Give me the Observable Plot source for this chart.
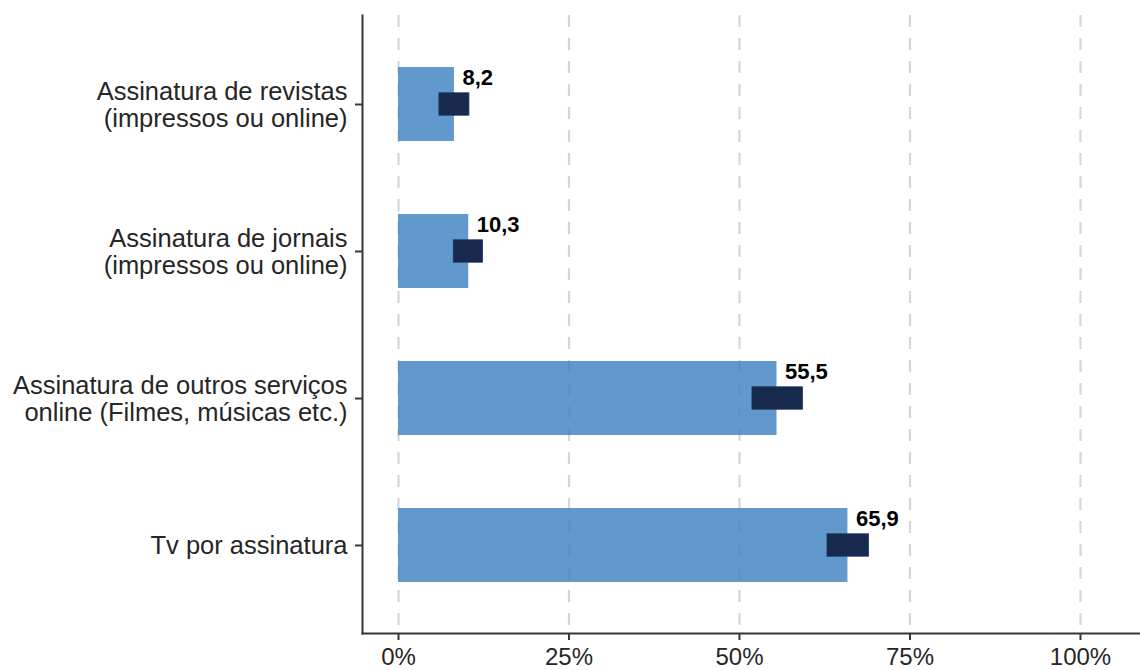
<!DOCTYPE html>
<html><head><meta charset="utf-8">
<script src="https://cdn.jsdelivr.net/npm/d3@7"></script>
<script src="https://cdn.jsdelivr.net/npm/@observablehq/plot@0.6"></script>
<style>
body{margin:0;background:#fff;}
</style>
</head><body><div id="chart"></div>
<script>
const categories = [
  "Assinatura de revistas\n(impressos ou online)",
  "Assinatura de jornais\n(impressos ou online)",
  "Assinatura de outros serviços\nonline (Filmes, músicas etc.)",
  "Tv por assinatura"
];
const values = [8.2, 10.3, 55.5, 65.9];
const lows = [6.0, 8.1, 51.9, 62.9];
const highs = [10.4, 12.4, 59.3, 69.0];
const xTicks = [0, 25, 50, 75, 100];

const data = categories.map((c, i) => ({cat: c, v: values[i], lo: lows[i], hi: highs[i], label: values[i].toFixed(1).replace(".", ",")}));

const chart = Plot.plot({
  width: 1140,
  height: 670,
  marginLeft: 362,
  marginRight: 0,
  marginTop: 15,
  marginBottom: 37,
  style: {fontFamily: "'Liberation Sans', Arial, sans-serif", background: "#fff"},
  x: {domain: [-5.28, 108.8]},
  y: {domain: categories, paddingInner: 0.5, paddingOuter: 0.35},
  marks: [
    Plot.ruleX(xTicks, {stroke: "#c8c8c8", strokeWidth: 2.2, strokeDasharray: "12,11", strokeOpacity: 0.75}),
    Plot.barX(data, {x1: 0, x2: "v", y: "cat", fill: "#3f83c2", fillOpacity: 0.82}),
    Plot.barX(data, {x1: "lo", x2: "hi", y: "cat", fill: "#172a4d", stroke: "#22355a", strokeWidth: 0.8, insetTop: 25.8, insetBottom: 25.8}),
    Plot.text(data, {x: "v", y: "cat", text: "label", textAnchor: "start", dx: 8, dy: -27, fontWeight: "bold", fontSize: 22, fill: "#000"}),
    Plot.axisY({tickSize: 7, tickPadding: 8, fontSize: 25.5, lineHeight: 1.07, label: null, stroke: "#3d3530", strokeWidth: 2, fill: "#262626"}),
    Plot.axisX(xTicks, {tickSize: 7, tickPadding: 7, fontSize: 24, label: null, tickFormat: d => d + "%", stroke: "#3d3530", strokeWidth: 2, fill: "#262626"}),
    Plot.frame({anchor: "left", stroke: "#3d3530", strokeWidth: 2}),
    Plot.frame({anchor: "bottom", stroke: "#3d3530", strokeWidth: 2})
  ]
});
document.getElementById("chart").appendChild(chart);
</script>
</body></html>
